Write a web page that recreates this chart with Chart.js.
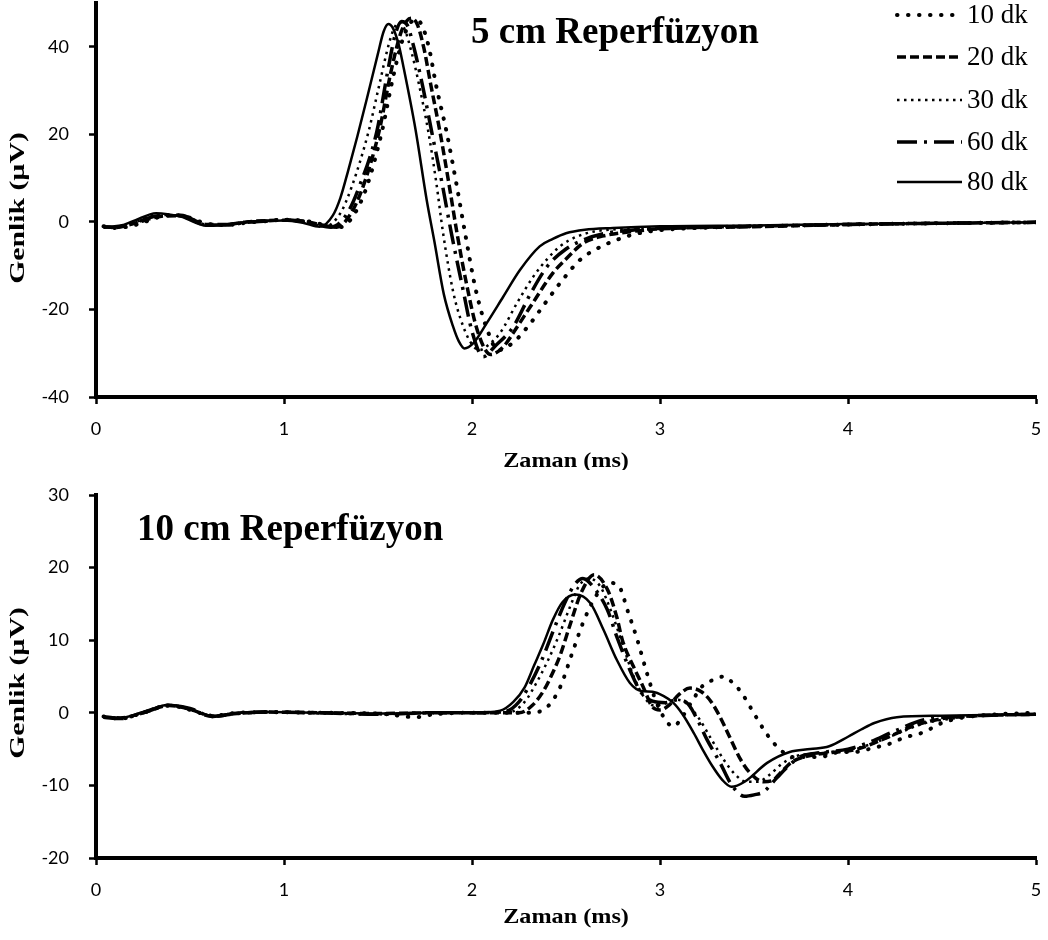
<!DOCTYPE html>
<html><head><meta charset="utf-8">
<script src="https://cdn.jsdelivr.net/npm/chart.js@4.4.0/dist/chart.umd.min.js"></script>
<style>html,body{margin:0;padding:0;background:#fff;} canvas{display:block;}</style>
</head><body>
<canvas id="c1" width="1048" height="470"></canvas>
<canvas id="c2" width="1048" height="470"></canvas>
<script>
// ---------- DATA ----------
const seriesLabels = ['10 dk','20 dk','30 dk','60 dk','80 dk'];
const xTickValues = [0,1,2,3,4,5];
const yTicksTop = [-40,-20,0,20,40];
const yTicksBottom = [-20,-10,0,10,20,30];
const xTitle = 'Zaman (ms)';
const yTitle = 'Genlik (µV)';
const titleTop = '5 cm Reperfüzyon';
const titleBottom = '10 cm Reperfüzyon';

// Top panel (5 cm) : [time ms, amplitude µV]
const top10 = [[0.04,-1.0],[0.1,-1.4],[0.2,-0.8],[0.3,0.6],[0.38,1.6],[0.47,1.3],[0.6,-0.5],[0.7,-0.7],[0.8,-0.2],[0.91,0.2],[1.0,0.5],[1.1,0.3],[1.3,-1.2],[1.37,1.5],[1.44,8],[1.52,20.5],[1.58,33],[1.63,41.5],[1.67,45.3],[1.7,46.2],[1.73,45.2],[1.77,40],[1.81,31],[1.865,20.5],[1.92,8],[1.963,-2.5],[2.02,-15.5],[2.08,-24.5],[2.14,-29.3],[2.22,-27.5],[2.31,-23.2],[2.39,-18.5],[2.468,-14],[2.574,-8.7],[2.67,-6],[2.77,-4.1],[2.876,-2.7],[3.0,-1.9],[3.25,-1.3],[3.5,-1.0],[4.0,-0.6],[4.5,-0.3],[5.0,-0.1]];
const top20 = [[0.04,-1.1],[0.1,-1.3],[0.2,-0.4],[0.35,1.3],[0.45,1.4],[0.59,-0.6],[0.7,-0.6],[0.8,0],[0.91,0.3],[1.0,0.4],[1.1,0.2],[1.28,-1.2],[1.35,1.5],[1.42,8],[1.505,20.5],[1.57,34.5],[1.62,43],[1.655,46],[1.68,46.5],[1.71,45],[1.745,39.5],[1.78,31.5],[1.83,20.5],[1.88,8],[1.92,-2.5],[1.97,-14],[2.03,-25],[2.1,-30.3],[2.167,-28.5],[2.24,-24],[2.31,-19.4],[2.43,-11.7],[2.5,-8.5],[2.59,-4.9],[2.7,-3.2],[2.85,-2.2],[3.0,-1.6],[3.5,-1.1],[4.0,-0.6],[4.5,-0.3],[5.0,-0.1]];
const top30 = [[0.04,-1.0],[0.1,-1.3],[0.2,-0.2],[0.33,1.6],[0.45,1.3],[0.59,-0.8],[0.7,-0.6],[0.8,0],[0.91,0.3],[1.0,0.4],[1.1,0],[1.22,-1.0],[1.3,2],[1.36,8],[1.449,20.5],[1.5,30],[1.56,41],[1.59,44.6],[1.615,45.5],[1.64,44.2],[1.68,38.5],[1.72,31],[1.768,20.5],[1.81,9],[1.846,-2.5],[1.9,-16],[1.95,-23.5],[2.0,-28],[2.04,-29.3],[2.09,-28],[2.149,-25.4],[2.24,-18.5],[2.326,-12.5],[2.4,-8.5],[2.468,-5.6],[2.55,-3.5],[2.65,-2.2],[2.8,-1.6],[3.0,-1.2],[3.5,-0.9],[4.0,-0.6],[4.5,-0.3],[5.0,-0.1]];
const top60 = [[0.04,-1.2],[0.1,-1.1],[0.2,-0.3],[0.33,1.4],[0.45,1.5],[0.59,-0.7],[0.7,-0.7],[0.8,-0.1],[0.91,0.2],[1.0,0.5],[1.1,0.1],[1.25,-1.2],[1.33,1.5],[1.4,8],[1.493,20.5],[1.55,34],[1.59,42.5],[1.625,45.8],[1.655,45],[1.69,40],[1.74,30.5],[1.786,20.5],[1.84,9],[1.89,-2.5],[1.95,-15],[2.0,-25],[2.06,-30.8],[2.12,-28.5],[2.22,-23.9],[2.31,-16.5],[2.4,-10.2],[2.5,-6.2],[2.6,-4],[2.7,-2.7],[2.85,-1.9],[3.0,-1.5],[3.5,-1.0],[4.0,-0.6],[4.5,-0.3],[5.0,-0.1]];
const top80 = [[0.04,-1.1],[0.1,-1.2],[0.2,0.2],[0.32,2.0],[0.45,1.2],[0.59,-0.9],[0.7,-0.5],[0.8,0],[0.91,0.2],[1.0,0.3],[1.1,-0.2],[1.19,-1.1],[1.26,1.5],[1.3,5.5],[1.34,11.5],[1.39,19.5],[1.44,28],[1.5,38.5],[1.53,43.5],[1.555,45.2],[1.58,44.2],[1.61,40.5],[1.635,35.5],[1.7,21],[1.759,5],[1.8,-4.5],[1.85,-16.5],[1.9,-24],[1.93,-27.3],[1.96,-28.9],[2.007,-27.7],[2.08,-23],[2.166,-17.1],[2.255,-11],[2.36,-5.6],[2.43,-3.9],[2.5,-2.6],[2.6,-1.8],[2.75,-1.4],[3.0,-1.0],[3.5,-0.8],[4.0,-0.5],[4.5,-0.3],[5.0,-0.1]];

// Bottom panel (10 cm)
const bot10 = [[0.04,-0.5],[0.13,-0.8],[0.25,0],[0.39,1.0],[0.5,0.4],[0.62,-0.4],[0.75,0],[0.9,0.1],[1.2,0],[1.5,-0.1],[1.7,-0.6],[1.8,-0.2],[2.0,0],[2.3,0],[2.4,0.8],[2.47,3.6],[2.53,8],[2.6,13],[2.67,16.5],[2.73,17.9],[2.78,17.5],[2.83,13.9],[2.88,10],[2.93,5.5],[2.98,1.5],[3.03,-1],[3.07,-1.9],[3.12,-0.5],[3.18,2],[3.23,3.8],[3.28,4.5],[3.34,5],[3.38,4.3],[3.43,2.9],[3.48,0.8],[3.53,-1.4],[3.57,-3],[3.64,-5.1],[3.71,-6.1],[3.85,-6.1],[3.96,-5.4],[4.03,-5.4],[4.14,-4.8],[4.24,-4.1],[4.29,-3.5],[4.4,-2.7],[4.5,-1.4],[4.6,-0.7],[4.8,-0.2],[5.0,0]];
const bot20 = [[0.04,-0.6],[0.13,-0.7],[0.25,0],[0.39,1.0],[0.5,0.5],[0.62,-0.5],[0.75,-0.1],[0.9,0.1],[1.2,0],[1.5,-0.1],[1.8,0],[2.0,0],[2.25,0],[2.32,1],[2.38,3],[2.42,5],[2.47,8],[2.52,12],[2.58,16.5],[2.65,19],[2.72,17],[2.77,13.2],[2.8,10],[2.86,6.3],[2.91,3.6],[2.96,0.8],[3.0,0.4],[3.05,1.1],[3.1,2.5],[3.16,3.4],[3.22,2.9],[3.27,1.6],[3.32,-0.6],[3.37,-3.3],[3.43,-6.5],[3.48,-8.3],[3.55,-9.5],[3.6,-9.3],[3.64,-8.3],[3.7,-6.8],[3.78,-6],[3.9,-5.5],[4.05,-5],[4.2,-3.5],[4.35,-1.8],[4.5,-0.8],[4.7,-0.4],[5.0,-0.2]];
const bot30 = [[0.04,-0.5],[0.13,-0.8],[0.25,0.1],[0.39,1.1],[0.5,0.4],[0.62,-0.4],[0.75,0],[0.9,0.1],[1.2,-0.1],[1.5,-0.2],[1.8,0],[2.0,0],[2.2,0.1],[2.28,1.5],[2.34,4],[2.4,7],[2.46,10.5],[2.52,14.5],[2.57,17.5],[2.62,18.5],[2.68,17.5],[2.74,14],[2.8,9.5],[2.86,5],[2.92,2],[2.97,1],[3.02,1.2],[3.08,1.8],[3.13,1.5],[3.2,-0.5],[3.27,-3.5],[3.34,-6.5],[3.4,-8.5],[3.46,-9.5],[3.52,-9.5],[3.58,-8.6],[3.65,-7],[3.72,-6],[3.82,-5.6],[3.95,-5.3],[4.1,-4.5],[4.25,-3],[4.4,-1.5],[4.55,-0.8],[4.7,-0.4],[5.0,-0.2]];
const bot60 = [[0.04,-0.6],[0.13,-0.8],[0.25,0],[0.39,1.0],[0.5,0.6],[0.62,-0.5],[0.75,-0.1],[0.9,0.1],[1.2,0],[1.5,-0.2],[1.8,0],[2.0,0],[2.18,0.2],[2.25,1.5],[2.3,3.5],[2.37,7.2],[2.44,11.8],[2.5,15.5],[2.55,17.8],[2.59,18.5],[2.64,17.5],[2.72,14.2],[2.77,10.5],[2.84,5.9],[2.9,2.8],[2.96,1.6],[3.03,1.4],[3.1,1.8],[3.15,1.2],[3.2,-1],[3.25,-3.7],[3.32,-6.9],[3.38,-9.9],[3.45,-11.5],[3.5,-11.3],[3.55,-10.9],[3.62,-9],[3.68,-7.4],[3.75,-6],[3.85,-5.5],[4.0,-5.0],[4.1,-4.2],[4.25,-2.5],[4.4,-1],[4.6,-0.5],[4.8,-0.3],[5.0,-0.2]];
const bot80 = [[0.04,-0.5],[0.13,-0.7],[0.25,0.1],[0.39,1.1],[0.5,0.5],[0.62,-0.4],[0.75,0],[0.9,0.1],[1.2,0],[1.5,-0.1],[1.8,0],[2.0,0],[2.15,0.3],[2.22,1.5],[2.28,3.5],[2.33,6.5],[2.38,9.5],[2.43,12.8],[2.48,15.2],[2.55,16.3],[2.63,15.1],[2.7,11.4],[2.77,7.3],[2.84,4.1],[2.9,3.0],[2.96,2.9],[3.02,2.3],[3.07,1.4],[3.12,-0.2],[3.18,-2.8],[3.23,-5.2],[3.28,-7.4],[3.33,-9.2],[3.38,-10.2],[3.45,-9.5],[3.57,-6.9],[3.69,-5.4],[3.8,-5],[3.9,-4.6],[4.0,-3.3],[4.07,-2.3],[4.14,-1.4],[4.26,-0.6],[4.5,-0.4],[4.75,-0.3],[5.0,-0.2]];

// ---------- STYLES ----------
const lineStyles = [
  {w:4, dash:[0.5,10.5], cap:'round'},
  {w:3.5, dash:[9,4], cap:'butt'},
  {w:2.5, dash:[2.5,4.5], cap:'butt'},
  {w:3.5, dash:[20,7,3,7], cap:'butt'},
  {w:2.5, dash:[], cap:'butt'}
];

const textPlugin = {
  id:'texts',
  afterDraw(chart, args, o){
    const ctx = chart.ctx, ca = chart.chartArea;
    ctx.save();
    ctx.fillStyle = '#000';
    ctx.font = 'bold ' + o.titleSize + 'px "Liberation Serif"';
    ctx.textAlign = 'left'; ctx.textBaseline = 'alphabetic';
    ctx.fillText(o.title, o.titleX, o.titleY);
    ctx.font = 'bold 22px "Liberation Serif"';
    ctx.textAlign = 'center'; ctx.textBaseline = 'middle';
    ctx.save();
    ctx.translate((ca.left + ca.right) / 2, o.xTitleY); ctx.scale(1.1, 1);
    ctx.fillText(xTitle, 0, 0);
    ctx.restore();
    ctx.save();
    ctx.translate(o.yTitleX, o.yTitleY); ctx.rotate(-Math.PI/2); ctx.scale(1.35, 1);
    ctx.fillText(yTitle, 0, 0);
    ctx.restore();
    if (o.legend) {
      const rows = [15,57,100,142,182];
      chart.data.datasets.forEach((ds, i) => {
        const y = rows[i];
        ctx.save();
        ctx.strokeStyle = '#000';
        ctx.lineWidth = ds.borderWidth;
        ctx.setLineDash(ds.borderDash);
        ctx.lineCap = ds.borderCapStyle;
        ctx.beginPath(); ctx.moveTo(897, y); ctx.lineTo(962, y); ctx.stroke();
        ctx.restore();
        ctx.font = '27px "Liberation Serif"';
        ctx.textAlign = 'left'; ctx.textBaseline = 'middle';
        ctx.fillText(ds.label, 967, y + 1);
      });
    }
    ctx.restore();
  }
};

function axisOpts(ticksArr, min, max, isX, size) {
  return {
    type:'linear', min:min, max:max,
    afterBuildTicks: s => { s.ticks = ticksArr.map(v => ({value:v})); },
    afterFit: s => {
      if (isX) { s.height = size; s.paddingLeft = 0; s.paddingRight = 0; }
      else { s.width = size; s.paddingTop = 0; s.paddingBottom = 0; }
    },
    ticks:{color:'#000', font:{family:'Lato', size:18}, padding: isX ? 14 : 20, maxRotation:0, autoSkip:false},
    grid:{drawOnChartArea:false, drawTicks:true, tickLength:7, tickColor:'#000', tickWidth:2.5},
    border:{display:true, color:'#000', width:4}
  };
}

function makeChart(id, series, yTicks, yMin, yMax, padTop, xAxisH, texts) {
  return new Chart(document.getElementById(id), {
    type:'line',
    data:{ datasets: series.map((s, i) => ({
      label: seriesLabels[i],
      data: s.map(p => ({x:p[0], y:p[1]})),
      borderColor:'#000', backgroundColor:'#000',
      borderWidth: lineStyles[i].w, borderDash: lineStyles[i].dash,
      borderCapStyle: lineStyles[i].cap, borderJoinStyle:'round',
      pointRadius:0, fill:false, cubicInterpolationMode:'monotone'
    })) },
    options:{
      responsive:false, animation:false, devicePixelRatio:1,
      layout:{padding:{top:padTop, right:12, left:0, bottom:0}},
      plugins:{legend:{display:false}, tooltip:{enabled:false}, texts: texts},
      scales:{
        x: axisOpts(xTickValues, 0, 5, true, xAxisH),
        y: axisOpts(yTicks, yMin, yMax, false, 96)
      }
    },
    plugins:[textPlugin]
  });
}

makeChart('c1', [top10, top20, top30, top60, top80], yTicksTop, -40, 50, 3, 73,
  {title: titleTop, titleSize: 37, titleX: 471, titleY: 43, xTitleY: 461, yTitleX: 18, yTitleY: 208, legend: true});
makeChart('c2', [bot10, bot20, bot30, bot60, bot80], yTicksBottom, -20, 30, 25, 82,
  {title: titleBottom, titleSize: 37, titleX: 137, titleY: 70, xTitleY: 447, yTitleX: 18, yTitleY: 213, legend: false});
</script></body></html>
